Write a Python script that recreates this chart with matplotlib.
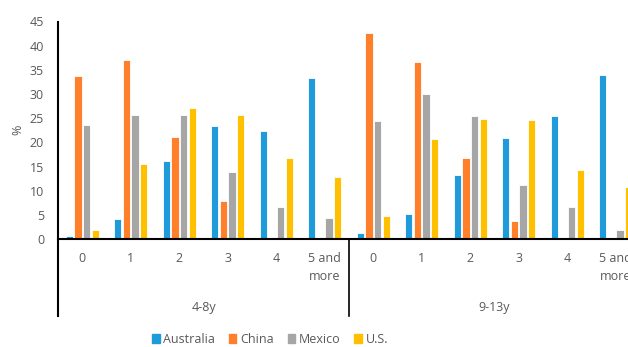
import numpy as np
import matplotlib
matplotlib.use("Agg")
import matplotlib.pyplot as plt
from matplotlib.transforms import blended_transform_factory
from matplotlib.patches import Patch

plt.rcParams["font.family"] = ["Open Sans", "DejaVu Sans"]

CATEGORIES = ["0", "1", "2", "3", "4", "5 and\nmore"]
GROUPS = ["4-8y", "9-13y"]
SERIES = ["Australia", "China", "Mexico", "U.S."]
COLORS = ["#1f9bdb", "#ff7f2a", "#a6a6a6", "#ffc000"]

# values per series, 4-8y categories then 9-13y categories
australia = [0.6, 4.1, 16.1, 23.3, 22.4, 33.4, 1.2, 5.2, 13.3, 20.8, 25.5, 33.9]
china = [33.7, 37.1, 21.2, 7.9, 0, 0, 42.7, 36.6, 16.8, 3.8, 0, 0]
mexico = [23.6, 25.6, 25.6, 13.9, 6.6, 4.3, 24.4, 30.0, 25.5, 11.2, 6.6, 1.9]
us = [1.9, 15.5, 27.0, 25.6, 16.8, 12.8, 4.7, 20.6, 24.8, 24.6, 14.2, 10.7]

YTICKS = [0, 5, 10, 15, 20, 25, 30, 35, 40, 45]
TXT = "#595959"

fig = plt.figure(figsize=(6.28, 3.47), dpi=100)
ax = fig.add_axes([58 / 628, 108 / 347, 582 / 628, 217.5 / 347])

n = len(CATEGORIES) * len(GROUPS)
x = np.arange(n)
step = 0.18
width = 0.15
for i, (name, vals, col) in enumerate(zip(SERIES, [australia, china, mexico, us], COLORS)):
    ax.bar(x + (i - 1.5) * step, vals, width, color=col, edgecolor="white",
           linewidth=0.6, label=name)

ax.set_xlim(-0.5, n - 0.5)
ax.set_ylim(0, 45)
ax.set_yticks(YTICKS)
ax.tick_params(axis="y", length=0, pad=10, labelsize=9, labelcolor=TXT)
ax.set_xticks([])
for s in ax.spines.values():
    s.set_visible(False)
ax.set_ylabel("%", color=TXT, fontsize=9, labelpad=4)

trans = blended_transform_factory(ax.transData, ax.transAxes)
ax.axhline(0, color="black", lw=1.5, clip_on=False)
# left axis line and group separators
ax.plot([-0.5, -0.5], [1, -0.354], color="black", lw=1.5, transform=trans, clip_on=False)
for g in range(1, len(GROUPS) + 1):
    xs = g * len(CATEGORIES) - 0.5
    ax.plot([xs, xs], [0, -0.354], color="black", lw=1.2, transform=trans, clip_on=False)

# category and group labels
for g, grp in enumerate(GROUPS):
    for c, cat in enumerate(CATEGORIES):
        ax.annotate(cat, xy=(g * len(CATEGORIES) + c, 0), xytext=(0, -13),
                    textcoords="offset pixels", ha="center", va="top",
                    fontsize=9, color=TXT, annotation_clip=False,
                    linespacing=1.45)
    ax.annotate(grp, xy=(g * len(CATEGORIES) + (len(CATEGORIES) - 1) / 2, 0),
                xytext=(0, -62), textcoords="offset pixels", ha="center",
                va="top", fontsize=9, color=TXT, annotation_clip=False)

handles = [Patch(color=c, label=s) for s, c in zip(SERIES, COLORS)]
leg = fig.legend(handles=handles, loc="center", bbox_to_anchor=(0.43, 0.022),
                 ncol=4, frameon=False, fontsize=9, handlelength=0.6,
                 handleheight=0.75, handletextpad=0.3, columnspacing=1.1)
for t in leg.get_texts():
    t.set_color(TXT)

fig.savefig("out.png", dpi=100)
